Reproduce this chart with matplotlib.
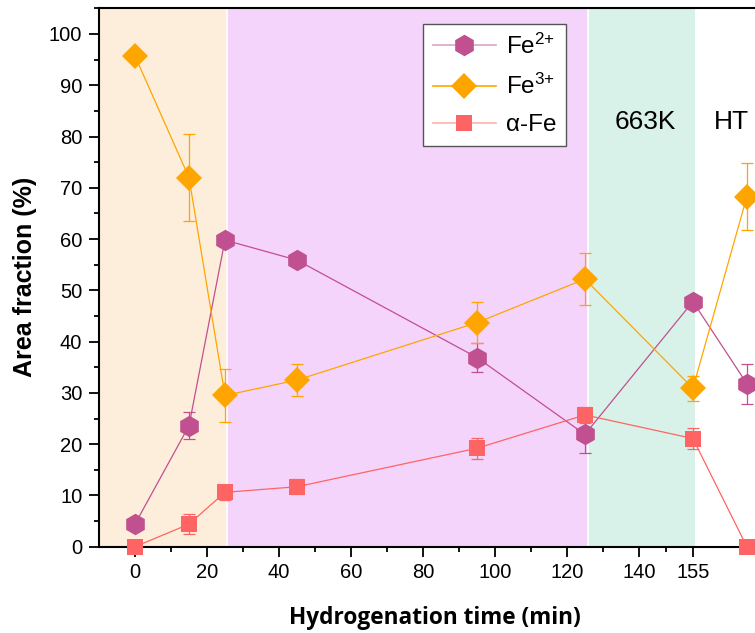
import matplotlib
matplotlib.use('Agg')
import matplotlib.pyplot as plt
from matplotlib.lines import Line2D
from matplotlib.ticker import MultipleLocator

plt.rcParams['font.family'] = ['Liberation Sans', 'DejaVu Sans']
plt.rcParams['mathtext.default'] = 'regular'

# ---- data ----
time = [0, 15, 25, 45, 95, 125, 155, 170]
fe2 = [4.4, 23.6, 59.8, 55.9, 36.9, 21.9, 47.8, 31.8]
fe2_err = [0, 2.6, 0, 0, 2.8, 3.7, 0, 3.9]
fe3 = [95.7, 72.0, 29.5, 32.5, 43.7, 52.2, 30.9, 68.3]
fe3_err = [0, 8.5, 5.2, 3.2, 4.0, 5.0, 2.4, 6.6]
afe = [0, 4.4, 10.6, 11.7, 19.2, 25.7, 21.1, 0]
afe_err = [0, 2.0, 1.5, 1.5, 2.0, 1.5, 2.0, 0]

series_labels = ['Fe$^{2{+}}$', 'Fe$^{3{+}}$', 'α-Fe']
region_edges = [-10, 25.7, 125.8, 155.5]
region_colors = ['#FDEEDB', '#F5D4FB', '#D9F2E9']
region_texts = ['663K', 'HT']
region_text_x = [141.7, 165.7]
region_text_y = 82.9
xticks_major = [0, 20, 40, 60, 80, 100, 120, 140, 155]
xticks_minor = [10, 30, 50, 70, 90, 110, 130, 147.5]

W, H = 755, 633
fig = plt.figure(figsize=(W / 100, H / 100), dpi=100)
ax = fig.add_axes([99 / W, (H - 546.7) / H, 672 / W, 538.7 / H])
ax.set_xlim(-10, 176.7)
ax.set_ylim(0, 105.07)

# background regions
for i, c in enumerate(region_colors):
    ax.axvspan(region_edges[i], region_edges[i + 1], color=c, lw=0, zorder=0)
for e in region_edges[1:3]:
    ax.axvline(e, color='white', lw=1.2, zorder=0.5)

for t, x in zip(region_texts, region_text_x):
    ax.text(x, region_text_y, t, ha='center', va='center', fontsize=19, color='black')

c2, c3, ca = '#C0508F', '#FFA500', '#FF6464'
specs = [
    (fe2, fe2_err, c2, 'h', 15.5, '#DDA3C8'),
    (fe3, fe3_err, c3, 'D', 13.0, c3),
    (afe, afe_err, ca, 's', 11.5, '#FFB0B0'),
]
handles = []
for (y, err, col, mk, ms, lcol), lab in zip(specs, series_labels):
    line, caps, bars = ax.errorbar(time, y, yerr=err, color=col, marker=mk, ms=ms,
                                   lw=0.9, elinewidth=0.9, capsize=4.5,
                                   capthick=0.9, zorder=3)
    line.set_markeredgewidth(0)
    line.set_clip_on(False)
    handles.append(Line2D([], [], color=lcol, lw=1.2, marker=mk, ms=ms,
                          mfc=col, mec=col, mew=0, label=lab))

leg = ax.legend(handles=handles, loc='upper left', bbox_to_anchor=(423 / W, 1 - 24 / H),
                bbox_transform=fig.transFigure, borderaxespad=0, fontsize=17.5,
                frameon=True, fancybox=False, framealpha=1, edgecolor='#555555',
                handlelength=2.6, handletextpad=0.4, labelspacing=0.62,
                borderpad=0.4)
leg.get_frame().set_linewidth(1.0)

# ticks
ax.set_xticks(xticks_major)
ax.set_xticks(xticks_minor, minor=True)
ax.yaxis.set_major_locator(MultipleLocator(10))
ax.yaxis.set_minor_locator(MultipleLocator(5))
ax.tick_params(which='major', direction='out', length=7, width=1.3, labelsize=14.5, pad=5)
ax.tick_params(which='minor', direction='out', length=3.6, width=1.3)
ax.tick_params(top=False, right=False)
for s in ['left', 'bottom', 'top']:
    ax.spines[s].set_linewidth(1.5)
ax.spines['right'].set_visible(False)

fig.text(435 / W, 1 - 618 / H, 'Hydrogenation time (min)', ha='center', va='center',
         fontsize=16.3, fontweight='bold', family=['Open Sans', 'DejaVu Sans'])
fig.text(25 / W, 1 - 277 / H, 'Area fraction (%)', ha='center', va='center',
         rotation=90, fontsize=18, fontweight='bold')

fig.savefig('out.png', dpi=100)
